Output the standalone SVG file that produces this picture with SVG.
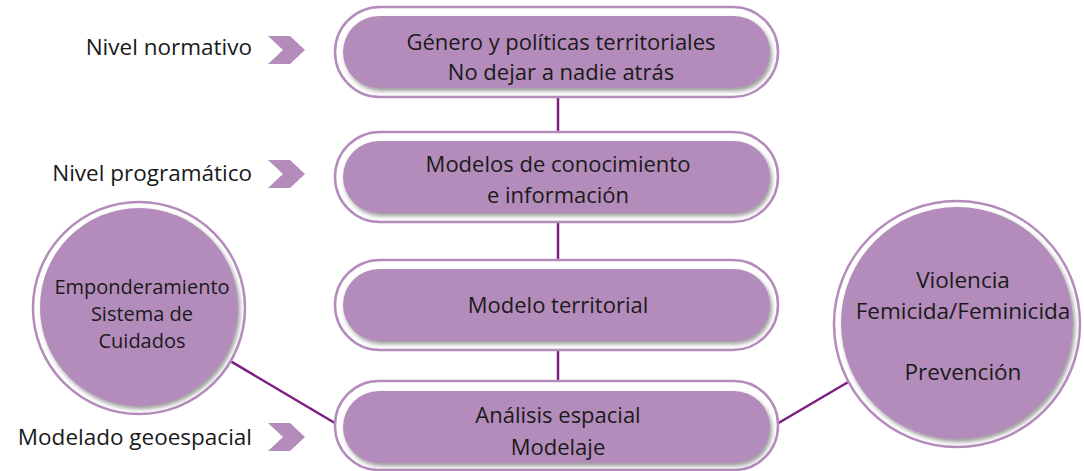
<svg xmlns="http://www.w3.org/2000/svg" width="1084" height="471" viewBox="0 0 1084 471">
<style>
.outer{fill:#ffffff;stroke:#b48cbb;stroke-width:2.5}
.inner{fill:#b48cbb;filter:url(#sh)}
.t{font-family:"Open Sans","Liberation Sans",sans-serif;font-size:22px;fill:#1a1a1a;text-anchor:middle}
.lbl{font-family:"Open Sans","Liberation Sans",sans-serif;font-size:22.5px;fill:#1a1a1a;text-anchor:end}
.chev{fill:#b48cbb}
.con{stroke:#7d1f80;stroke-width:2.5;fill:none}
</style>
<defs>
<filter id="sh" x="-10%" y="-20%" width="120%" height="140%">
<feDropShadow dx="2" dy="3" stdDeviation="2" flood-color="#555555" flood-opacity="0.6"/>
</filter>
</defs>
<rect width="1084" height="471" fill="#ffffff"/>
<g id="connectors">
<line class="con" x1="558" y1="96" x2="558" y2="134"/>
<line class="con" x1="558" y1="220" x2="558" y2="262"/>
<line class="con" x1="558" y1="348" x2="558" y2="382"/>
<line class="con" x1="139" y1="307" x2="345" y2="429"/>
<line class="con" x1="770" y1="428" x2="957" y2="318"/>
</g>
<g id="label-normativo">
<text class="lbl" x="252" y="55">Nivel normativo</text>
<polygon class="chev" points="268,36 290,36 305,50 290,64 268,64 283,50"/>
</g>
<g id="label-programatico">
<text class="lbl" x="252" y="181">Nivel programático</text>
<polygon class="chev" points="268,160 290,160 305,174 290,188 268,188 283,174"/>
</g>
<g id="label-geoespacial">
<text class="lbl" x="252" y="445">Modelado geoespacial</text>
<polygon class="chev" points="268,423 290,423 305,437 290,451 268,451 283,437"/>
</g>
<g id="node-genero">
<rect class="outer" x="335" y="7" width="443" height="90" rx="45"/>
<rect class="inner" x="343" y="16" width="427" height="72" rx="36"/>
<text class="t" x="561" y="50">Género y políticas territoriales</text>
<text class="t" x="561" y="80">No dejar a nadie atrás</text>
</g>
<g id="node-modelos">
<rect class="outer" x="335" y="132" width="443" height="90" rx="45"/>
<rect class="inner" x="343" y="141" width="427" height="72" rx="36"/>
<text class="t" x="558" y="172">Modelos de conocimiento</text>
<text class="t" x="558" y="203">e información</text>
</g>
<g id="node-territorial">
<rect class="outer" x="335" y="260" width="443" height="90" rx="45"/>
<rect class="inner" x="343" y="269" width="427" height="72" rx="36"/>
<text class="t" x="558" y="313">Modelo territorial</text>
</g>
<g id="node-analisis">
<rect class="outer" x="335" y="381" width="443" height="89" rx="44"/>
<rect class="inner" x="343" y="391" width="427" height="72" rx="36"/>
<text class="t" x="558" y="423">Análisis espacial</text>
<text class="t" x="558" y="455">Modelaje</text>
</g>
<g id="node-emponderamiento">
<circle class="outer" cx="139" cy="308" r="106"/>
<circle class="inner" cx="139" cy="307" r="99"/>
<text class="t" x="142" y="294" style="font-size:20px">Emponderamiento</text>
<text class="t" x="142" y="321" style="font-size:20px">Sistema de</text>
<text class="t" x="142" y="348" style="font-size:20px">Cuidados</text>
</g>
<g id="node-violencia">
<circle class="outer" cx="957" cy="324" r="123"/>
<circle class="inner" cx="957" cy="323" r="116"/>
<text class="t" x="963" y="288" style="font-size:22.5px">Violencia</text>
<text class="t" x="963" y="319" style="font-size:22.5px">Femicida/Feminicida</text>
<text class="t" x="963" y="380" style="font-size:22.5px">Prevención</text>
</g>
</svg>
